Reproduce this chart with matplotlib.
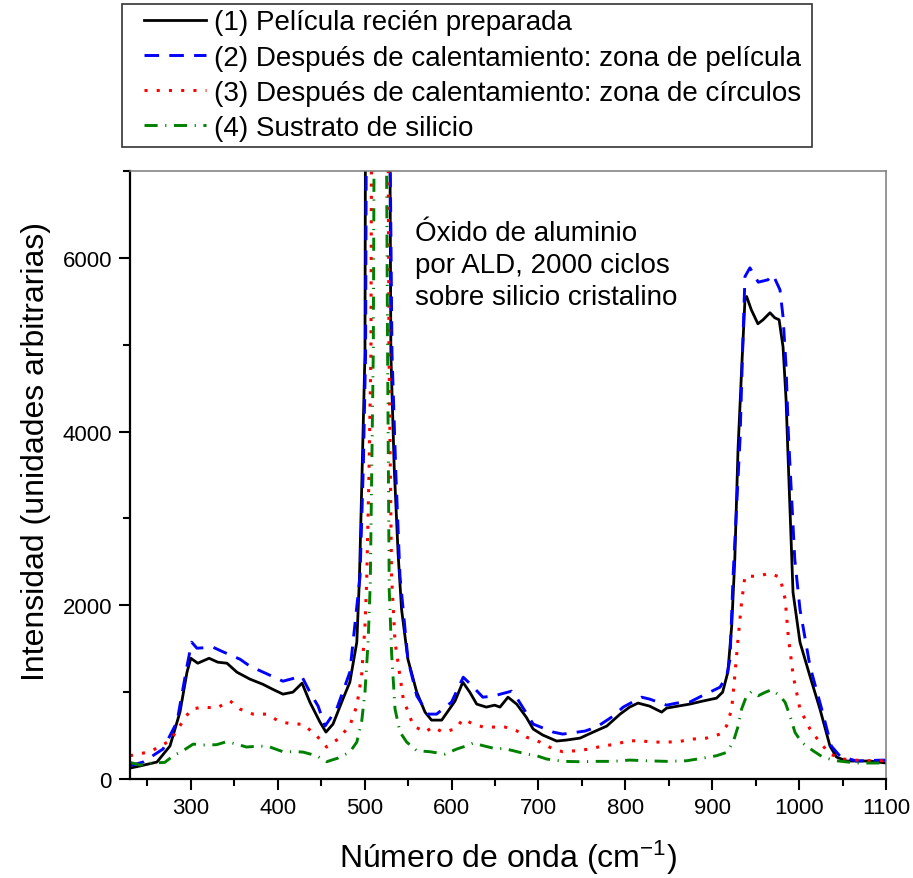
import matplotlib
matplotlib.use("Agg")
import matplotlib.pyplot as plt
from matplotlib.ticker import MultipleLocator
from matplotlib.patches import Rectangle

plt.rcParams['font.family'] = ['Liberation Sans', 'DejaVu Sans']
plt.rcParams['mathtext.fontset'] = 'custom'
plt.rcParams['mathtext.rm'] = 'Liberation Sans'
plt.rcParams['mathtext.it'] = 'Liberation Sans:italic'

# Raman spectra, wavenumber (cm^-1) vs intensity (a.u.)
black_x = [230, 241.5, 261, 276, 287.5, 295.6, 300, 308, 321, 331,
           341.6, 353, 368, 383, 394, 406, 417.5, 428, 437, 448.6,
           455.5, 463.6, 475, 483, 491, 494, 497, 500.4, 501, 515,
           529, 530.2, 534, 538.5, 542.5, 549.8, 560, 569.5, 577, 588.7,
           596, 604, 613, 621, 629, 640, 649.6, 655.8, 665, 675,
           686, 694, 705, 721, 732, 748, 763, 778.6, 794, 805,
           814.6, 828, 841.8, 847.5, 860.6, 874, 889, 905, 912, 918,
           922.4, 926, 929.7, 934, 937.7, 939.6, 945, 952.6, 958.5, 966.5,
           972, 977, 981.5, 985, 987, 993, 1001, 1012.5, 1024, 1035.5,
           1043, 1054.6, 1081.6, 1100]
black_y = [126, 150, 195, 380, 770, 1230, 1390, 1333, 1390, 1345,
           1333, 1230, 1150, 1090, 1034, 977, 1000, 1103, 885, 655,
           540, 632, 920, 1115, 1575, 2300, 3500, 4900, 7600, 20000,
           7600, 4900, 3600, 2600, 1954, 1379, 1000, 770, 678, 678,
           782, 897, 1115, 1000, 862, 828, 850, 828, 942, 862,
           712, 575, 506, 437, 448, 471, 540, 609, 747, 828,
           874, 839, 770, 816, 839, 862, 897, 931, 1000, 1230,
           1759, 2529, 3793, 4747, 5517, 5555, 5402, 5241, 5287, 5368,
           5310, 5287, 4977, 4368, 3793, 2149, 1575, 1184, 805, 380,
           253, 207, 207, 184]

blue_x = [230, 245, 268, 284, 295.6, 301, 307, 325.6, 335.5, 356.6,
          368, 391, 406, 427.6, 437, 446.5, 454.4, 467.8, 483, 494.7,
          498.5, 501.1, 502, 515, 529, 531.5, 536, 540.7, 549.8, 560,
          573, 582.8, 600, 613.5, 623, 636, 647.6, 669, 676, 694,
          717, 728, 753.6, 767, 786, 797.6, 818.7, 828, 847.5, 859,
          874, 887.6, 909, 916.6, 920.5, 924, 932, 935, 937.7, 943.4,
          953, 964, 970, 978, 981.5, 985, 987.6, 995, 1001, 1012.5,
          1026, 1037, 1047, 1066, 1096.5, 1100]
blue_y = [153, 195, 345, 655, 1300, 1575, 1506, 1517, 1471, 1379,
          1299, 1195, 1126, 1184, 1000, 839, 609, 805, 1230, 2333,
          3600, 4900, 7600, 20000, 7600, 4900, 3500, 2333, 1379, 958,
          747, 747, 885, 1172, 1080, 942, 954, 1011, 920, 632,
          540, 517, 552, 598, 724, 828, 942, 920, 850, 874,
          885, 954, 1057, 1184, 1379, 2333, 3908, 4943, 5785, 5885,
          5720, 5747, 5805, 5632, 5322, 4747, 3988, 2529, 1954, 1299,
          805, 380, 264, 207, 218, 215]

red_x = [230, 253, 276, 287.5, 295, 301, 314, 329.6, 345, 356.6,
         371.5, 387, 402.6, 417.5, 429, 444.8, 456.3, 469.4, 483, 491,
         496.5, 500.4, 502.3, 505, 507.3, 508, 517, 527, 528, 531,
         535, 544.5, 556, 569.5, 578.5, 590, 604, 613.5, 625, 636.6,
         650, 661.5, 675, 686, 701.8, 717, 728, 744, 759, 774,
         790, 803, 817, 832, 847.5, 860.6, 878, 893.5, 909, 916.6,
         922.4, 926, 929.7, 933.8, 937.7, 951, 966.5, 978, 984, 987.5,
         993.2, 1001, 1012.5, 1024, 1035.5, 1050.7, 1073.7, 1096.5, 1100]
red_y = [268, 314, 440, 613, 728, 805, 828, 816, 900, 805,
         747, 747, 659, 632, 632, 498, 368, 460, 613, 843,
         1188, 1762, 2250, 3500, 4943, 7600, 20000, 7600, 4943, 2337,
         1575, 920, 613, 540, 598, 540, 575, 690, 632, 598,
         598, 598, 555, 483, 425, 345, 314, 326, 345, 380,
         402, 440, 440, 425, 425, 429, 460, 471, 517, 613,
         805, 1188, 1609, 2034, 2337, 2333, 2368, 2322, 2069, 1647,
         1188, 805, 575, 421, 287, 230, 210, 210, 210]

green_x = [230, 241.5, 256, 270, 279.8, 291, 302.7, 314, 329.6, 341,
           352.7, 364, 379.6, 391, 406, 421.8, 429, 444.8, 456.3, 469.4,
           483, 491, 496.5, 500.4, 504, 506.5, 510, 511, 518, 525,
           526.4, 528.3, 531, 535, 540.7, 548.4, 560, 575, 592.5, 606,
           617.6, 625, 636.6, 652, 659.6, 671, 686, 697.9, 709.4, 728.5,
           748, 767, 786, 805, 824, 847.5, 870.5, 889.7, 905, 916.6,
           924, 930, 933.8, 939.6, 945, 952.8, 960.5, 968, 978, 984,
           989.5, 995.3, 1003, 1016, 1027.6, 1043, 1066, 1089, 1100]
green_y = [191, 161, 184, 191, 268, 326, 402, 391, 395, 429,
           402, 368, 380, 368, 314, 314, 310, 268, 199, 241,
           310, 425, 652, 1000, 1575, 2250, 4943, 7600, 20000, 7600,
           4943, 2184, 1456, 805, 540, 425, 326, 314, 287, 345,
           383, 414, 383, 345, 352, 326, 287, 268, 230, 203,
           199, 203, 203, 218, 210, 203, 210, 241, 268, 306,
           421, 613, 805, 958, 1004, 958, 996, 1027, 958, 881,
           728, 536, 421, 326, 249, 210, 184, 184, 184]

labels = ['(1) Película recién preparada',
          '(2) Después de calentamiento: zona de película',
          '(3) Después de calentamiento: zona de círculos',
          '(4) Sustrato de silicio']

W, H = 913, 879
fig = plt.figure(figsize=(W / 100, H / 100), dpi=100)
ax = fig.add_axes([130 / W, 1 - 780 / H, (886 - 130) / W, (780 - 172) / H])

l1, = ax.plot(black_x, black_y, color='black', lw=2.0, ls='-')
l2, = ax.plot(blue_x, blue_y, color='#0000ff', lw=2.1, ls=(0, (5, 3.5)))
l3, = ax.plot(red_x, red_y, color='#ff0000', lw=2.2, ls=(0, (1, 3.0)))
l4, = ax.plot(green_x, green_y, color='#008000', lw=2.1,
              ls=(0, (4.5, 2.6, 0.4, 2.6)))

ax.set_xlim(230, 1100)
ax.set_ylim(0, 7000)
ax.xaxis.set_major_locator(MultipleLocator(100))
ax.xaxis.set_minor_locator(MultipleLocator(50))
ax.yaxis.set_major_locator(MultipleLocator(2000))
ax.yaxis.set_minor_locator(MultipleLocator(1000))
ax.tick_params(which='major', direction='out', length=8, width=1.5,
               labelsize=16, pad=5, top=False, right=False)
ax.tick_params(which='minor', direction='out', length=5, width=1.5,
               top=False, right=False)

for side in ('left', 'bottom'):
    ax.spines[side].set_linewidth(1.6)
    ax.spines[side].set_color('black')
for side in ('top', 'right'):
    ax.spines[side].set_linewidth(1.1)
    ax.spines[side].set_color('#7a7a7a')

ax.set_xlabel('Número de onda (cm$^{-1}$)', fontsize=23, labelpad=14)
ax.set_ylabel('Intensidad (unidades arbitrarias)', fontsize=23)
ax.yaxis.set_label_coords(-0.104, 0.54)

ax.text(558, 6440, 'Óxido de aluminio\npor ALD, 2000 ciclos\nsobre silicio cristalino',
        fontsize=20, ha='left', va='top', linespacing=1.3)

fig.legend([l1, l2, l3, l4], labels, loc='upper left',
           bbox_to_anchor=(143 / W, 1 - 9 / H), frameon=False, fontsize=20,
           handlelength=2.2, handletextpad=0.3, labelspacing=0.33,
           borderpad=0.05, borderaxespad=0)
fig.add_artist(Rectangle((122 / W, 1 - 148 / H), (812 - 122) / W, (148 - 5) / H,
                         transform=fig.transFigure, fill=False,
                         edgecolor='#333333', lw=1.2))

fig.savefig('out.png', dpi=100)
